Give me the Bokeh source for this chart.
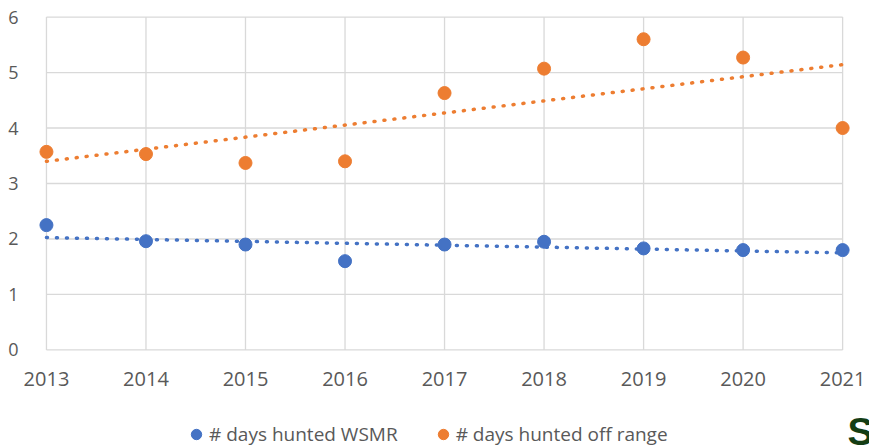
import numpy as np
from bokeh.plotting import figure
from bokeh.layouts import column
from bokeh.models import Range1d, FixedTicker, Legend, LegendItem, Label
from bokeh.embed import file_html
from bokeh.resources import INLINE

years = [2013, 2014, 2015, 2016, 2017, 2018, 2019, 2020, 2021]
wsmr = [2.25, 1.96, 1.90, 1.60, 1.90, 1.95, 1.83, 1.80, 1.80]
off_range = [3.57, 3.53, 3.37, 3.40, 4.63, 5.07, 5.60, 5.27, 4.00]
y_ticks = [0, 1, 2, 3, 4, 5, 6]
series_names = ["# days hunted WSMR", "# days hunted off range"]
colors = ["#4472C4", "#ED7D31"]

FONT = "Open Sans"
GRID = "#d9d9d9"
TXT = "#595959"

p = figure(width=869, height=407, output_backend="svg", toolbar_location=None,
           x_range=Range1d(years[0] - 0.1, years[-1] + 0.27),
           y_range=Range1d(y_ticks[0] - 0.1, y_ticks[-1] + 0.1),
           min_border_left=36, min_border_right=0, min_border_top=11, min_border_bottom=52)
p.outline_line_color = None
p.xgrid.visible = False
p.ygrid.visible = False

# grid restricted to the data extent
p.segment(x0=[years[0]] * len(y_ticks), x1=[years[-1]] * len(y_ticks), y0=y_ticks, y1=y_ticks,
          line_color=GRID, line_width=1.3)
p.segment(x0=years, x1=years, y0=[y_ticks[0]] * len(years), y1=[y_ticks[-1]] * len(years),
          line_color=GRID, line_width=1.3)

x = np.array(years, dtype=float)
for vals, col in zip([wsmr, off_range], colors):
    k, b = np.polyfit(x, np.array(vals), 1)
    p.line(x=[x[0], x[-1]], y=[k * x[0] + b, k * x[-1] + b], line_color=col,
           line_width=3.5, line_dash="1 9", line_cap="round")
    p.scatter(x=years, y=vals, size=13, marker="circle", fill_color=col, line_color=col)

p.xaxis.ticker = FixedTicker(ticks=years)
p.yaxis.ticker = FixedTicker(ticks=y_ticks)
for ax in (p.xaxis, p.yaxis):
    ax.axis_line_color = None
    ax.major_tick_line_color = None
    ax.minor_tick_line_color = None
    ax.major_label_text_color = TXT
    ax.major_label_text_font = FONT
p.xaxis.major_label_text_font_size = "20px"
p.yaxis.major_label_text_font_size = "18px"
p.xaxis.major_label_standoff = 10
p.yaxis.major_label_standoff = 12

# legend row (its frame is aligned with the main frame by the column layout)
lf = figure(width=869, height=40, output_backend="svg", toolbar_location=None,
            x_axis_type=None, y_axis_type=None, x_range=Range1d(0, 1), y_range=Range1d(0, 1),
            min_border_left=0, min_border_right=0, min_border_top=0, min_border_bottom=0)
lf.outline_line_color = None
lf.xgrid.visible = False
lf.ygrid.visible = False
leg_r = [lf.scatter(x=years, y=vals, size=11, marker="circle", fill_color=c, line_color=c)
         for vals, c in zip([wsmr, off_range], colors)]
legend = Legend(items=[LegendItem(label=n, renderers=[r]) for n, r in zip(series_names, leg_r)],
                orientation="horizontal", location=(147, 0),
                label_text_font=FONT, label_text_font_size="19px", label_text_color=TXT,
                border_line_color=None, background_fill_alpha=0,
                glyph_width=26, glyph_height=26, label_height=20,
                label_standoff=0, spacing=32, margin=0, padding=0)
lf.add_layout(legend, "center")
lf.add_layout(Label(x=811, y=16, x_units="screen", y_units="screen", text="S",
                    text_font="Liberation Sans", text_font_style="bold", text_baseline="middle",
                    text_font_size="39px", text_color="#143d14"))

layout = column(p, lf, spacing=0)
open("out.html", "w").write(file_html(layout, INLINE))
